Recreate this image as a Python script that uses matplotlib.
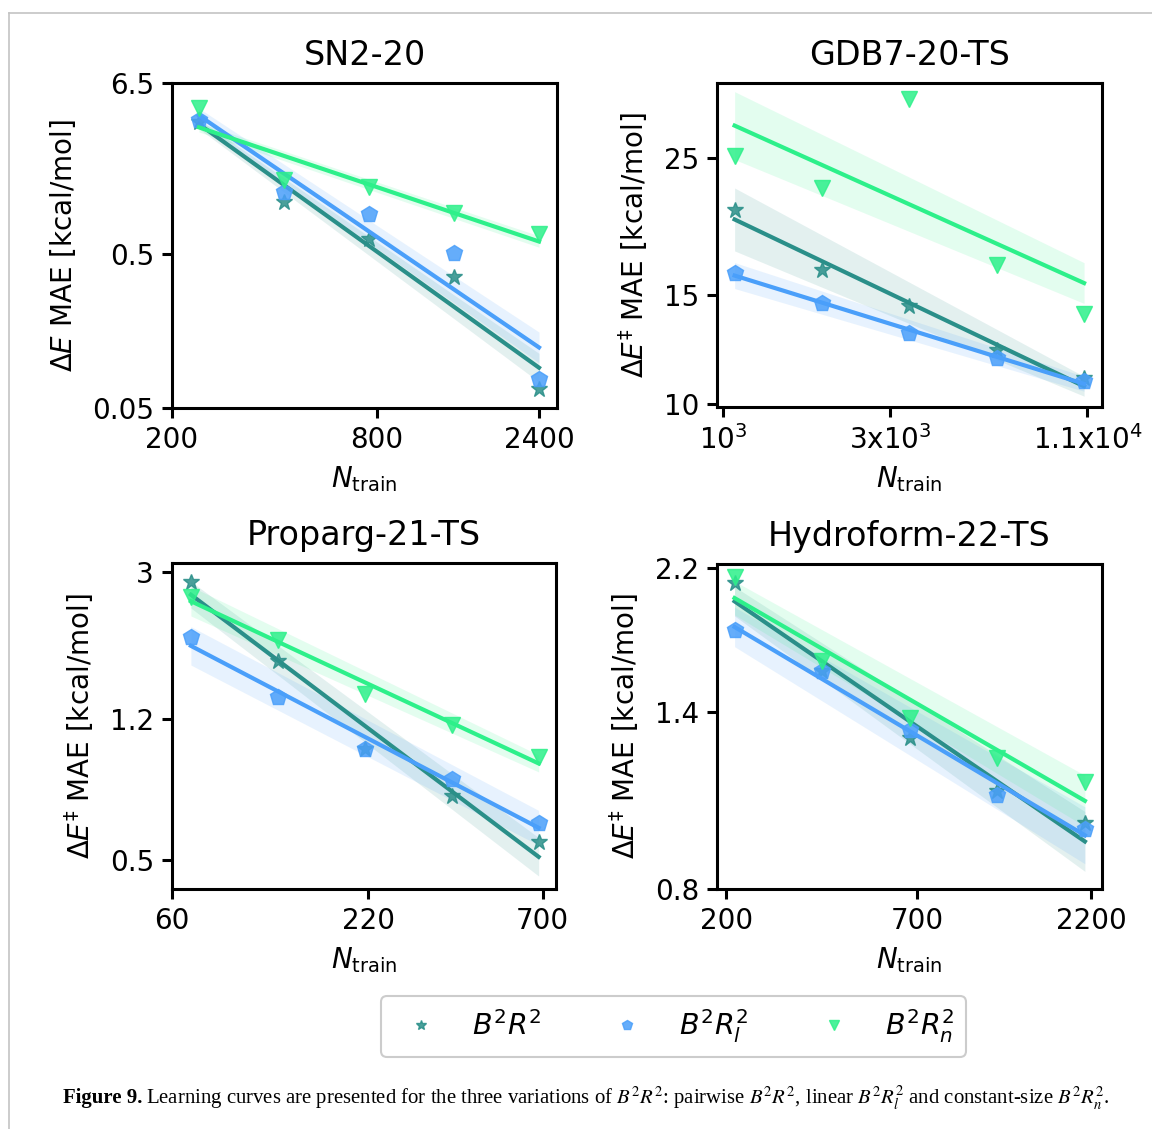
import numpy as np
import matplotlib
matplotlib.use("Agg")
import matplotlib.pyplot as plt
from matplotlib.lines import Line2D

# training set sizes and MAEs for each dataset
sn2_n = [240, 427, 759, 1350, 2400]
sn2_b2r2 = [3.61, 1.09, 0.63, 0.357, 0.066]
sn2_b2r2_l = [3.75, 1.27, 0.92, 0.51, 0.077]
sn2_b2r2_n = [4.49, 1.51, 1.37, 0.93, 0.675]

gdb_n = [1077, 1915, 3406, 6057, 10770]
gdb_b2r2 = [20.6, 16.5, 14.4, 12.2, 11.0]
gdb_b2r2_l = [16.3, 14.55, 13.0, 11.85, 10.9]
gdb_b2r2_n = [25.2, 22.4, 31.2, 16.8, 13.96]

proparg_n = [68, 121, 215, 383, 681]
proparg_b2r2 = [2.83, 1.73, 1.0, 0.744, 0.56]
proparg_b2r2_l = [2.01, 1.38, 1.0, 0.83, 0.628]
proparg_b2r2_n = [2.58, 1.97, 1.41, 1.16, 0.95]

hydro_n = [211, 375, 667, 1186, 2110]
hydro_b2r2 = [2.10, 1.59, 1.287, 1.09, 0.984]
hydro_b2r2_l = [1.81, 1.59, 1.32, 1.075, 0.968]
hydro_b2r2_n = [2.14, 1.64, 1.37, 1.21, 1.12]

# confidence band half-width (log10 units) at smallest / largest N, per variant
sn2_ci = [(0.03, 0.093), (0.047, 0.10), (0.03, 0.037)]
gdb_ci = [(0.051, 0.016), (0.021, 0.012), (0.055, 0.033)]
proparg_ci = [(0.036, 0.052), (0.052, 0.047), (0.04, 0.023)]
hydro_ci = [(0.02, 0.041), (0.027, 0.039), (0.023, 0.035)]

titles = ["SN2-20", "GDB7-20-TS", "Proparg-21-TS", "Hydroform-22-TS"]
xticks = [[200, 800, 2400], [1000, 3000, 11000], [60, 220, 700], [200, 700, 2200]]
xticklabels = [["200", "800", "2400"],
               [r"$\mathregular{10^3}$", r"$\mathregular{3x10^3}$", r"$\mathregular{1.1x10^4}$"],
               ["60", "220", "700"], ["200", "700", "2200"]]
yticks = [[0.05, 0.5, 6.5], [10, 15, 25], [0.5, 1.2, 3], [0.8, 1.4, 2.2]]
yticklabels = [["0.05", "0.5", "6.5"], ["10", "15", "25"], ["0.5", "1.2", "3"], ["0.8", "1.4", "2.2"]]
xlims = [(200, 2711), (959, 12120), (60, 764), (188, 2361)]
ylims = [(0.05, 6.5), (9.88, 33.1), (0.417, 3.18), (0.8, 2.23)]

series_names = [r"$B^2R^2$", r"$B^2R^2_l$", r"$B^2R^2_n$"]
colors = ["#2a8f89", "#4a9ffa", "#2df08a"]
markers = ["*", "p", "v"]

data = [
    (sn2_n, [sn2_b2r2, sn2_b2r2_l, sn2_b2r2_n], sn2_ci),
    (gdb_n, [gdb_b2r2, gdb_b2r2_l, gdb_b2r2_n], gdb_ci),
    (proparg_n, [proparg_b2r2, proparg_b2r2_l, proparg_b2r2_n], proparg_ci),
    (hydro_n, [hydro_b2r2, hydro_b2r2_l, hydro_b2r2_n], hydro_ci),
]

W, H = 1152, 1129
fig = plt.figure(figsize=(W / 100, H / 100), dpi=100)

# axes boxes in pixels: left, top, right, bottom
boxes = [(172, 83, 557, 408), (717, 83, 1102, 407), (172, 563, 556, 889), (717, 564, 1102, 889)]


def fit_line(x, y, grid, ci):
    # power-law fit (straight line in log-log) with a band around it
    lx, ly = np.log10(x), np.log10(y)
    slope, icpt = np.polyfit(lx, ly, 1)
    fit = slope * grid + icpt
    frac = (grid - grid[0]) / (grid[-1] - grid[0])
    hw = ci[0] + (ci[1] - ci[0]) * frac
    return 10 ** fit, 10 ** (fit - hw), 10 ** (fit + hw)


for i, (ntrain, ys, cis) in enumerate(data):
    l, t, r, b = boxes[i]
    ax = fig.add_axes([l / W, 1 - b / H, (r - l) / W, (b - t) / H])
    x = np.array(ntrain, dtype=float)
    grid = np.linspace(np.log10(x.min()), np.log10(x.max()), 100)
    for j, y in enumerate(ys):
        fit, lo, hi = fit_line(x, np.array(y), grid, cis[j])
        ax.fill_between(10 ** grid, lo, hi, color=colors[j], alpha=0.13, lw=0)
        ax.plot(10 ** grid, fit, color=colors[j], lw=3)
        ax.plot(x, y, ls="none", marker=markers[j], ms=12, color=colors[j], alpha=0.85)
    ax.set_xscale("log")
    ax.set_yscale("log")
    ax.set_xlim(xlims[i])
    ax.set_ylim(ylims[i])
    ax.minorticks_off()
    ax.set_xticks(xticks[i])
    ax.set_xticklabels(xticklabels[i])
    ax.set_yticks(yticks[i])
    ax.set_yticklabels(yticklabels[i])
    ax.tick_params(labelsize=20, width=2.2, length=7, pad=6)
    for sp in ax.spines.values():
        sp.set_linewidth(2.2)
    ax.set_title(titles[i], fontsize=24, pad=13)
    ax.set_xlabel(r"$N_{\mathrm{train}}$", fontsize=20, labelpad=7)
    if i == 0:
        ax.set_ylabel(r"$\Delta E$ MAE [kcal/mol]", fontsize=20, labelpad=10)
    else:
        ax.set_ylabel(r"$\Delta E^{\ddagger}$ MAE [kcal/mol]", fontsize=20, labelpad=10)

handles = [Line2D([], [], ls="none", marker=markers[j], color=colors[j], ms=12, alpha=0.85)
           for j in range(3)]
leg = fig.legend(handles, series_names, loc="center", ncol=3, fontsize=20.5,
                 bbox_to_anchor=(673.5 / W, 1 - 1026.5 / H), markerscale=0.6,
                 handlelength=2.0, handletextpad=0.8, columnspacing=2.0,
                 borderpad=0.4, fancybox=True, edgecolor="#cccccc", framealpha=1)
leg.get_frame().set_linewidth(1.5)

# page frame lines
fig.add_artist(Line2D([9 / W, 1], [1 - 13 / H, 1 - 13 / H], color="#c4c4c4", lw=1.2))
fig.add_artist(Line2D([9 / W, 9 / W], [1 - 13 / H, 0], color="#c4c4c4", lw=1.2))

# caption, sized so it ends near the right margin
cap_y = 1 - 1098 / H
cap_size = 13
t1 = fig.text(63 / W, cap_y, "Figure 9.", fontsize=cap_size, fontweight="bold",
              family="Liberation Serif", va="center")
t2 = fig.text(0, cap_y,
              r"Learning curves are presented for the three variations of $B^2R^2$: pairwise $B^2R^2$, "
              r"linear $B^2R^2_l$ and constant-size $B^2R^2_n$.",
              fontsize=cap_size, family="Liberation Serif", math_fontfamily="stix", va="center")
fig.canvas.draw()
renderer = fig.canvas.get_renderer()
w1 = t1.get_window_extent(renderer).width
w2 = t2.get_window_extent(renderer).width
cap_size = cap_size * (1110 - 63) / (w1 + 4 + w2)
t1.set_fontsize(cap_size)
t2.set_fontsize(cap_size)
fig.canvas.draw()
bb = t1.get_window_extent(renderer)
t2.set_x((bb.x1 + 4) / W)

fig.savefig("out.png", dpi=100)
